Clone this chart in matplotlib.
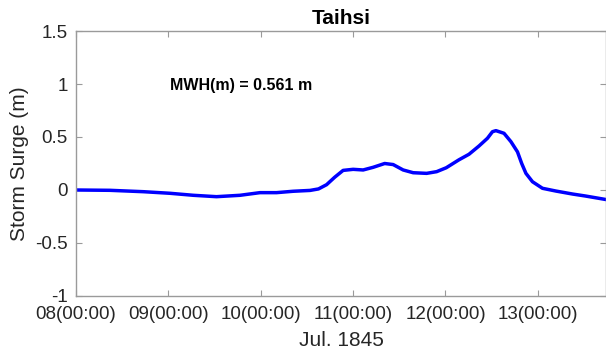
import datetime as dt

import matplotlib
matplotlib.use('Agg')
from matplotlib import pyplot as plt

# hours after 08 Jul 1845 00:00 and surge (m)
hours = [0, 8.8, 17.5, 24.4, 30.5, 36.5, 42.6, 47.8, 52.1, 56.4, 60.8, 63.0, 65.1, 67.2,
         69.4, 72.0, 74.6, 77.2, 80.2, 82.4, 85.0, 87.6, 91.1, 93.7, 96.2, 99.5, 102.1,
         104.7, 106.9, 108.2, 109.1, 111.2, 113.0, 114.7, 115.8, 116.9, 118.6, 121.2,
         124.7, 129.0, 132.4, 137.7]
surge = [0.0, -0.003, -0.016, -0.031, -0.05, -0.063, -0.05, -0.025, -0.025, -0.012, -0.004,
         0.01, 0.05, 0.12, 0.185, 0.195, 0.189, 0.214, 0.25, 0.24, 0.189, 0.163, 0.157,
         0.173, 0.21, 0.285, 0.337, 0.415, 0.488, 0.55, 0.56, 0.535, 0.456, 0.36, 0.25,
         0.157, 0.078, 0.016, -0.01, -0.038, -0.057, -0.09]
x_ticklabels = ['08(00:00)', '09(00:00)', '10(00:00)', '11(00:00)', '12(00:00)', '13(00:00)']
y_ticks = [-1, -0.5, 0, 0.5, 1, 1.5]
station = 'Taihsi'
mwh = 0.561

plt.rcParams['font.family'] = ['Liberation Sans', 'DejaVu Sans']
plt.rcParams['axes.unicode_minus'] = False

start = dt.datetime(1845, 7, 8)
times = [start + dt.timedelta(hours=h) for h in hours]
tick_times = [start + dt.timedelta(days=i) for i in range(len(x_ticklabels))]

fig = plt.figure(figsize=(6.06, 3.58), dpi=100)
ax = fig.add_axes([0.1254, 0.1732, 0.8746, 0.7402])
ax.plot(times, surge, color='#0000ff', linewidth=2.5, solid_joinstyle='round')

ax.set_xlim(start, start + dt.timedelta(hours=hours[-1]))
ax.set_ylim(-1, 1.5)
ax.set_xticks(tick_times)
ax.set_xticklabels(x_ticklabels)
ax.set_yticks(y_ticks)
ax.set_yticklabels(['%g' % v for v in y_ticks])

grey = '#9a9a9a'
for s in ax.spines.values():
    s.set_color(grey)
    s.set_linewidth(1.0)
ax.tick_params(direction='in', top=True, right=True, length=4, color=grey,
               labelsize=13.5, labelcolor='#262626')
ax.tick_params(axis='x', pad=7)
ax.tick_params(axis='y', pad=6)

ax.set_xlabel('Jul. 1845', fontsize=15, color='#262626', labelpad=6)
ax.set_ylabel('Storm Surge (m)', fontsize=15, color='#262626', labelpad=4)
ax.set_title(station, fontsize=15, fontweight='bold', pad=5)
ax.text(start + dt.timedelta(days=1.02), 0.99, f'MWH(m) = {mwh} m',
        fontsize=11.5, fontweight='bold', va='center')

plt.savefig('out.png', dpi=100)
